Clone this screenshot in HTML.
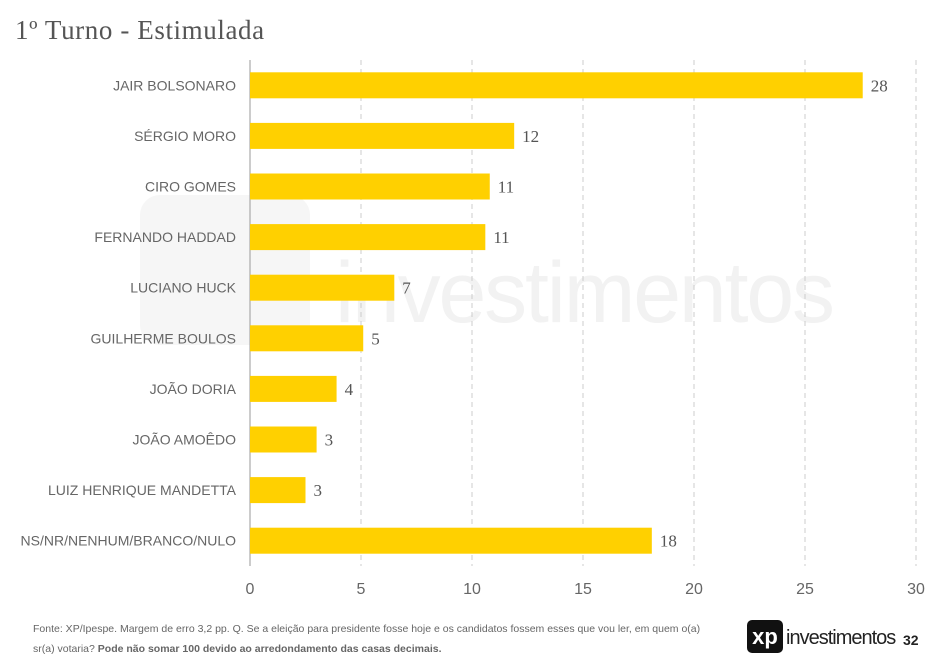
<!DOCTYPE html>
<html><head><meta charset="utf-8"><style>
body{margin:0;width:947px;height:663px;background:#fff;overflow:hidden;font-family:"Liberation Sans",sans-serif;position:relative}
.title{position:absolute;left:15px;top:15px;font-family:"Liberation Serif",serif;font-size:27px;color:#555;letter-spacing:0.6px}
.foot{position:absolute;left:33px;top:619px;width:690px;font-size:10.5px;line-height:20px;color:#666}
</style></head><body>
<svg id="chart" width="947" height="663" style="position:absolute;left:0;top:0">
<rect x="140" y="195" width="170" height="150" rx="20" fill="#f6f6f6"/>
<text x="335" y="322" font-size="86" fill="#f2f2f2" font-family="Liberation Sans" textLength="500">investimentos</text>
</svg>
<div class="title">1º Turno - Estimulada</div>
<div class="foot">Fonte: XP/Ipespe. Margem de erro 3,2 pp. Q. Se a eleição para presidente fosse hoje e os candidatos fossem esses que vou ler, em quem o(a) sr(a) votaria? <b>Pode não somar 100 devido ao arredondamento das casas decimais.</b></div>
<div style="position:absolute;left:747px;top:620px;width:36px;height:33px;background:#111;border-radius:5px;color:#fff;font-weight:bold;font-size:22px;text-align:center;line-height:33px">xp</div>
<div style="position:absolute;left:786px;top:627px;font-size:20px;color:#222;letter-spacing:-1px">investimentos</div>
<div style="position:absolute;left:903px;top:632px;font-size:14px;font-weight:bold;color:#222">32</div>
<script>
const categories=["JAIR BOLSONARO","SÉRGIO MORO","CIRO GOMES","FERNANDO HADDAD","LUCIANO HUCK","GUILHERME BOULOS","JOÃO DORIA","JOÃO AMOÊDO","LUIZ HENRIQUE MANDETTA","NS/NR/NENHUM/BRANCO/NULO"];
const values=[27.6,11.9,10.8,10.6,6.5,5.1,3.9,3.0,2.5,18.1];
const labels=["28","12","11","11","7","5","4","3","3","18"];
const ticks=[0,5,10,15,20,25,30];
const svg=document.getElementById('chart');const NS="http://www.w3.org/2000/svg";
const x0=250,x1=916,top0=60,bot=566;
const xs=v=>x0+(v/30)*(x1-x0);
const band=(bot-top0)/categories.length;
const yc=i=>top0+band*(i+0.5);
function mk(t,a){const e=document.createElementNS(NS,t);for(const k in a)e.setAttribute(k,a[k]);svg.appendChild(e);return e;}
ticks.forEach(t=>{
 if(t>0){const g=mk('line',{x1:xs(t),x2:xs(t),y1:top0,y2:bot,stroke:'#ccc','stroke-dasharray':'5,4'});
 
 }
 const tx=mk('text',{x:xs(t),y:594,'text-anchor':'middle','font-size':16,fill:'#666'});tx.textContent=t;
 
 
});
const ax=mk('line',{x1:x0,x2:x0,y1:top0,y2:bot,stroke:'#999'});


categories.forEach((c,i)=>{
 const r=mk('rect',{x:x0,y:yc(i)-13,width:xs(values[i])-x0,height:26,fill:'#ffd000'});
 
 
 const l=mk('text',{x:236,y:yc(i)+5,'text-anchor':'end','font-size':14,fill:'#666'});l.textContent=c;
 
 
 const v=mk('text',{x:xs(values[i])+8,y:yc(i)+6,'font-size':17,fill:'#555','font-family':'Liberation Serif'});v.textContent=labels[i];
 
 
});
</script>
</body></html>
